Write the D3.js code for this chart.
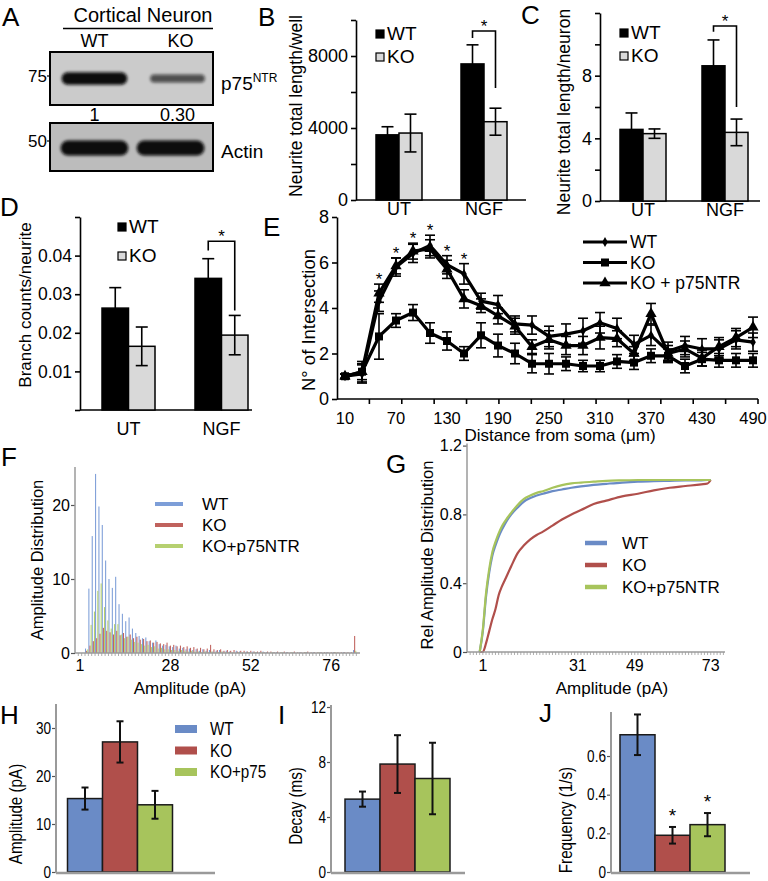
<!DOCTYPE html>
<html><head><meta charset="utf-8">
<script src="https://cdn.jsdelivr.net/npm/d3@7/dist/d3.min.js"></script>
<style>html,body{margin:0;padding:0;background:#fff;}svg{display:block;}</style>
</head><body>
<svg id="fig" width="768" height="881" xmlns="http://www.w3.org/2000/svg"></svg>
<script>
// ================= DATA =================
// A: western blot
const blotLanes = ["WT", "KO"];
const p75Intensity = [1, 0.30];
const actinIntensity = [1, 1];

// B, C, D
const treatments = ["UT", "NGF"];
const genotypes = ["WT", "KO"];
const lengthWellWT = [3620, 7560];
const lengthWellWTErr = [450, 1060];
const lengthWellKO = [3720, 4350];
const lengthWellKOErr = [1050, 750];
const lengthNeuronWT = [4.57, 8.63];
const lengthNeuronWTErr = [1.05, 1.65];
const lengthNeuronKO = [4.3, 4.38];
const lengthNeuronKOErr = [0.3, 0.85];
const branchWT = [0.0264, 0.0341];
const branchWTErr = [0.0053, 0.0051];
const branchKO = [0.0165, 0.0194];
const branchKOErr = [0.0050, 0.0051];
const tickLabelsB = [0, 4000, 8000];
const tickLabelsC = [0, 4, 8];
const tickLabelsD = [0.01, 0.02, 0.03, 0.04];

// E: Sholl analysis
const shollDistances = [10,30,50,70,90,110,130,150,170,190,210,230,250,270,290,310,330,350,370,390,410,430,450,470,490];
const shollWT =        [1.0,1.1,4.3,5.8,6.4,6.75,5.9,5.5,4.3,4.15,3.3,3.25,2.75,2.85,3.0,3.35,3.1,2.4,2.8,2.1,2.35,2.2,2.2,2.6,2.5];
const shollWTErr =     [0.1,0.4,0.45,0.4,0.4,0.45,0.4,0.45,0.35,0.4,0.35,0.4,0.45,0.45,0.55,0.45,0.45,0.4,0.45,0.4,0.4,0.45,0.4,0.4,0.4];
const shollKO =        [1.0,1.2,2.75,3.45,3.8,2.9,2.55,2.0,2.8,2.35,2.0,1.55,1.55,1.55,1.45,1.45,1.65,1.6,1.9,1.9,1.45,1.75,1.7,1.7,1.7];
const shollKOErr =     [0.1,0.45,1.0,0.3,0.35,0.45,0.4,0.3,0.55,0.5,0.45,0.4,0.45,0.3,0.25,0.25,0.3,0.3,0.3,0.3,0.3,0.3,0.3,0.3,0.3];
const shollRescue =    [1.0,1.2,4.65,5.85,6.5,6.6,5.7,4.4,4.1,3.65,3.2,2.3,2.6,2.35,2.35,2.7,2.65,2.0,3.75,2.0,2.2,1.8,2.3,2.7,3.15];
const shollRescueErr = [0.1,0.35,0.4,0.35,0.35,0.4,0.4,0.4,0.3,0.35,0.35,0.3,0.4,0.4,0.4,0.5,0.35,0.3,0.45,0.35,0.35,0.35,0.4,0.4,0.45];
const shollSignificant = [50,70,90,110,130,150];
const shollTickLabels = [10,70,130,190,250,310,370,430,490];

// F: amplitude histogram (bins in pA)
const ampBins = [1,2,3,4,5,6,7,8,9,10,11,12,13,14,15,16,17,18,19,20,21,22,23,24,25,26,27,28,29,30,31,32,33,34,35,36,37,38,39,40,41,42,43,44,45,46,47,48,49,50,51,52,53,54,55,56,57,58,59,60,61,62,63,64,65,66,67,68,69,70,71,72,73,74,75,76,77,78,79,80,81,82,83,84];
const histWT =  [0,0,0.6,8.7,15.8,24.2,19.8,17.3,12.5,10.0,8.8,10.3,6.6,5.3,4.3,4.8,3.3,2.7,2.3,2.0,2.1,1.6,1.4,1.7,1.2,1.0,1.1,0.9,0.8,1.0,0.6,0.7,0.5,0.6,0.4,0.5,0.3,0.5,0.3,0.4,0.2,0.3,0.4,0.2,0.3,0.2,0.1,0.3,0.2,0.1,0.2,0.1,0.2,0.1,0.1,0.2,0.1,0,0.1,0.1,0,0.1,0.1,0,0.1,0,0.1,0,0.1,0,0.1,0,0.1,0,0.1,0,0.1,0,0,0.1,0,0,0.4,0];
const histKO =  [0,0,0.3,1.0,1.6,2.0,2.6,3.4,3.0,2.8,2.5,3.0,2.4,2.7,2.2,2.5,2.0,2.2,1.8,1.9,1.6,1.7,1.4,1.5,1.3,1.2,1.4,1.0,1.1,0.9,1.0,0.8,0.9,0.7,0.8,0.6,0.7,0.5,0.6,1.1,0.5,0.4,0.5,0.3,0.4,0.3,0.4,0.2,0.3,0.3,0.2,0.3,0.2,0.2,0.3,0.1,0.2,0.2,0.1,0.2,0.1,0.2,0.1,0.1,0.2,0.1,0.1,0.1,0.2,0.1,0.1,0.1,0.1,0.1,0.1,0.1,0.1,0.1,0.1,0.1,0.1,0.1,2.3,0];
const histRescue = [0,0,0.5,3.8,5.6,8.4,9.4,6.2,4.4,3.3,3.9,3.9,2.5,2.0,2.2,1.8,1.5,1.4,1.2,1.0,1.1,0.8,0.9,0.6,0.7,0.5,0.5,0.4,0.4,0.3,0.4,0.3,0.2,0.3,0.2,0.2,0.1,0.2,0.1,0.2,0.1,0.1,0.2,0.1,0.1,0.1,0,0.1,0.1,0,0.1,0,0.1,0,0.1,0,0,0.1,0,0,0.1,0,0,0.1,0,0,0,0.1,0,0,0,0.1,0,0,0,0,0.1,0,0,0,0,0,0.3,0];
const histTickLabels = [1,28,52,76];

// G: cumulative amplitude distribution
const cumAmp =    [0,1,2,3,4,5,6,7,8,10,12,14,16,18,20,23,26,29,32,36,40,45,50,55,60,65,70,72,73];
const cumWT =     [0,0.12,0.32,0.46,0.56,0.62,0.67,0.71,0.745,0.80,0.84,0.875,0.895,0.91,0.92,0.935,0.945,0.955,0.963,0.972,0.978,0.985,0.99,0.993,0.995,0.997,0.998,1.0,1.0];
const cumKO =     [0,0,0.05,0.12,0.19,0.25,0.33,0.38,0.42,0.50,0.575,0.62,0.655,0.68,0.70,0.735,0.77,0.80,0.825,0.86,0.88,0.905,0.92,0.94,0.955,0.965,0.975,0.98,1.0];
const cumRescue = [0,0.13,0.34,0.48,0.58,0.64,0.69,0.73,0.76,0.81,0.855,0.89,0.91,0.925,0.935,0.955,0.97,0.98,0.985,0.99,0.995,0.998,1.0,1.0,1.0,1.0,1.0,1.0,1.0];
const cumTickLabels = [1,31,49,73];

// H, I, J
const groupsHIJ = ["WT", "KO", "KO+p75"];
const amplitudeMean = [15.3, 27.1, 14.0];
const amplitudeErr = [2.3, 4.3, 2.9];
const decayMean = [5.3, 7.85, 6.8];
const decayErr = [0.55, 2.1, 2.6];
const frequencyMean = [0.71, 0.19, 0.245];
const frequencyErr = [0.105, 0.043, 0.06];
const frequencySignificant = ["KO", "KO+p75"];

// ================= DRAWING =================
const svg = d3.select("#fig");
const SANS = '"Liberation Sans", Arial, Helvetica, sans-serif';
const COL = {WT: "#6a8bc6", KO: "#b04f4b", "KO+p75": "#a7c45c"};
const COLF = {WT: "#7d9ed8", KO: "#c0625d", p75: "#b6d070"};
const AXGREY = "#9a9a9a";
const SQUEEZE = 0.8;

function txt(g, x, y, s, size, o = {}) {
  return g.append("text").attr("x", x).attr("y", y).text(s)
    .style("font-family", SANS).style("font-size", size + "px")
    .attr("text-anchor", o.anchor || "start").attr("fill", o.fill || "#000");
}
function ntxt(g, x, y, s, size, o = {}) {
  return g.append("text").attr("transform", `translate(${x},${y}) scale(${SQUEEZE},1)`).text(s)
    .style("font-family", SANS).style("font-size", size + "px")
    .attr("text-anchor", o.anchor || "start").attr("fill", "#000");
}
function vtxt(g, cx, cy, s, size, squeeze) {
  return g.append("text").attr("transform", `translate(${cx},${cy}) rotate(-90)` + (squeeze ? ` scale(${squeeze},1)` : ""))
    .attr("text-anchor", "middle").attr("dy", "0.35em").text(s)
    .style("font-family", SANS).style("font-size", size + "px").attr("fill", "#000");
}

// panel letters
const letters = [["A",2,26],["B",258,26],["C",521,24],["D",0,216],["E",263,236],["F",1,466],["G",386,473],["H",0,724],["I",278,724],["J",539,722]];
letters.forEach(([l,x,y]) => txt(svg, x, y, l, 26));

// ---------- A: western blot ----------
(function(){
  const g = svg.append("g");
  const defs = svg.append("defs");
  defs.append("filter").attr("id","blur").attr("x","-20%").attr("y","-60%").attr("width","140%").attr("height","220%")
    .append("feGaussianBlur").attr("stdDeviation", 1.6);
  const lane = d3.scaleBand().domain(blotLanes).range([58, 212]).paddingInner(0.05).paddingOuter(0.05);
  txt(g, 143, 22, "Cortical Neuron", 20, {anchor:"middle"});
  g.append("line").attr("x1",63).attr("x2",213).attr("y1",28.5).attr("y2",28.5).attr("stroke","#000").attr("stroke-width",1.5);
  blotLanes.forEach(l => txt(g, lane(l) + lane.bandwidth()/2 - (l==="WT"?3:-8), 47, l, 18, {anchor:"middle"}));
  const blots = [{y:52,h:53,bg:"#cbcbcb",vals:p75Intensity,marker:"75",label:"p75",sup:"NTR"},
                 {y:123,h:48,bg:"#bcbcbc",vals:actinIntensity,marker:"50",label:"Actin",sup:""}];
  blots.forEach((b,bi) => {
    g.append("rect").attr("x",50).attr("y",b.y).attr("width",163).attr("height",b.h).attr("fill",b.bg).attr("stroke","#000").attr("stroke-width",2);
    const cy = b.y + b.h*0.5 + (bi===0?0:1);
    blotLanes.forEach((l,i) => {
      const v = b.vals[i];
      const bw = lane.bandwidth() * (bi===0 ? (0.7 + 0.22*v) : 0.95);
      const bh = bi===0 ? (6 + 6.5*v) : 15;
      const cx = lane(l) + lane.bandwidth()/2 + (bi===0 && i===1 ? 5 : (i===0?-3:-2));
      g.append("rect").attr("x", cx-bw/2).attr("y", cy-bh/2).attr("width", bw).attr("height", bh)
        .attr("rx", bh/2).attr("fill", "#0a0a0a").attr("opacity", 0.5 + 0.5*v)
        .attr("filter","url(#blur)");
    });
    txt(g, 47, b.y + (bi===0?30:24), b.marker, 17, {anchor:"end"});
    g.append("line").attr("x1",47).attr("x2",51).attr("y1",b.y+(bi===0?24:18)).attr("y2",b.y+(bi===0?24:18)).attr("stroke","#000").attr("stroke-width",1.2);
    const t = txt(g, 221, bi===0 ? 90 : 158, b.label, 19);
    if (b.sup) t.append("tspan").attr("dy",-8).style("font-size","12px").text(b.sup);
  });
  const quant = ["1", p75Intensity[1].toFixed(2)];
  blotLanes.forEach((l,i) => txt(g, lane(l)+lane.bandwidth()/2 + (i===0?-3:5), 121, quant[i], 18, {anchor:"middle"}));
})();

// ---------- B, C, D ----------
function bwPanel(o) {
  const g = svg.append("g");
  const y = d3.scaleLinear().domain(o.yDomain).range(o.yRange);
  const x0 = d3.scaleBand().domain(treatments).range(o.barRange).paddingInner(o.inner).paddingOuter(0);
  const x1 = d3.scaleBand().domain(genotypes).range([0, x0.bandwidth()]);
  const ax = d3.axisLeft(y).tickValues(o.ticks).tickSize(5).tickSizeOuter(0).tickPadding(3)
    .tickFormat(d => o.labeled.some(v => Math.abs(v-d) < 1e-9) ? o.fmt(d) : "");
  const ag = g.append("g").attr("transform", `translate(${o.axisX},0)`).call(ax);
  ag.select(".domain").attr("stroke","#000").attr("stroke-width",1.6);
  ag.selectAll(".tick line").attr("stroke","#000").attr("stroke-width",1.6);
  ag.selectAll(".tick text").style("font-family",SANS).style("font-size",o.tickFont+"px").attr("fill","#000");
  g.append("line").attr("x1",o.axisX).attr("x2",o.axisEnd).attr("y1",y(0)).attr("y2",y(0)).attr("stroke","#000").attr("stroke-width",1.6);
  const series = [{key:"WT", vals:o.wt, errs:o.wtErr, fill:"#000"},{key:"KO", vals:o.ko, errs:o.koErr, fill:"#d9d9d9"}];
  series.forEach(s => {
    g.selectAll(null).data(treatments).join("rect")
      .attr("x", t => x0(t)+x1(s.key)).attr("width", x1.bandwidth())
      .attr("y", (t,i) => y(s.vals[i])).attr("height", (t,i) => y(0)-y(s.vals[i]))
      .attr("fill", s.fill).attr("stroke","#000").attr("stroke-width",1.5);
  });
  series.forEach(s => {
    treatments.forEach((t,i) => {
      const cx = x0(t)+x1(s.key)+x1.bandwidth()/2;
      const hi = y(s.vals[i]+s.errs[i]), lo = y(s.vals[i]-s.errs[i]);
      g.append("line").attr("x1",cx).attr("x2",cx).attr("y1",hi).attr("y2",lo).attr("stroke","#000").attr("stroke-width",1.6);
      [hi,lo].forEach(yy => g.append("line").attr("x1",cx-6).attr("x2",cx+6).attr("y1",yy).attr("y2",yy).attr("stroke","#000").attr("stroke-width",1.6));
    });
  });
  treatments.forEach(t => txt(g, x0(t)+x0.bandwidth()/2, o.catY, t, 18, {anchor:"middle"}));
  genotypes.forEach((k,i) => {
    const ly = o.legY + i*o.legStep;
    g.append("rect").attr("x",o.legX).attr("y",ly).attr("width",8).attr("height",8)
      .attr("fill", k==="WT"?"#000":"#d9d9d9").attr("stroke","#000").attr("stroke-width",1.2);
    txt(g, o.legX+11, ly+10, k, 19);
  });
  const xa = x0("NGF")+x1("WT")+x1.bandwidth()/2, xb = x0("NGF")+x1("KO")+x1.bandwidth()/2;
  const [top, leftEnd, rightEnd] = o.bracket;
  g.append("path").attr("d", `M${xa},${y(leftEnd)}V${y(top)}H${xb}V${y(rightEnd)}`)
    .attr("fill","none").attr("stroke","#000").attr("stroke-width",1.6);
  txt(g, (xa+xb)/2, y(top)+1, "*", 17, {anchor:"middle"});
  vtxt(g, o.ylabX, o.ylabY, o.ylab, o.ylabSize || 17.5);
}

bwPanel({wt:lengthWellWT, wtErr:lengthWellWTErr, ko:lengthWellKO, koErr:lengthWellKOErr,
  yDomain:[0,10000], yRange:[200,20], ticks:[0,2000,4000,6000,8000,10000], labeled:tickLabelsB, fmt:d3.format("d"),
  axisX:356, axisEnd:526, barRange:[376,507], inner:0.459, tickFont:18, catY:215,
  legX:376, legY:30, legStep:23, bracket:[9390,9000,6220], ylab:"Neurite total length/well", ylabX:296, ylabY:106});
bwPanel({wt:lengthNeuronWT, wtErr:lengthNeuronWTErr, ko:lengthNeuronKO, koErr:lengthNeuronKOErr,
  yDomain:[0,12], yRange:[201,13], ticks:[0,2,4,6,8,10,12], labeled:tickLabelsC, fmt:d3.format("d"),
  axisX:600, axisEnd:760, barRange:[620,748], inner:0.439, tickFont:18, catY:216,
  legX:620, legY:29, legStep:23, bracket:[11.17,10.8,6.0], ylab:"Neurite total length/neuron", ylabX:564, ylabY:112});
bwPanel({wt:branchWT, wtErr:branchWTErr, ko:branchKO, koErr:branchKOErr,
  yDomain:[0,0.05], yRange:[410,217], ticks:[0,0.01,0.02,0.03,0.04,0.05], labeled:tickLabelsD, fmt:d3.format(".2f"),
  axisX:80, axisEnd:252, barRange:[102,248], inner:0.43, tickFont:17.5, catY:435,
  legX:118, legY:223, legStep:29, bracket:[0.0437,0.0413,0.0258], ylab:"Branch counts/neurite", ylabX:25, ylabY:305, ylabSize:17});

// ---------- E: Sholl ----------
(function(){
  const g = svg.append("g");
  const y = d3.scaleLinear().domain([0,8]).range([399,217]);
  const x = d3.scalePoint().domain(shollDistances).range([345,753]);
  const tickPos = d3.scaleLinear().domain([0,13]).range([337,758]);
  const ax = d3.axisLeft(y).tickValues([0,2,4,6,8]).tickSize(5).tickSizeOuter(0).tickPadding(3);
  const ag = g.append("g").attr("transform","translate(337,0)").call(ax);
  ag.select(".domain").attr("stroke","#000").attr("stroke-width",1.6);
  ag.selectAll(".tick line").attr("stroke","#000").attr("stroke-width",1.6);
  ag.selectAll(".tick text").style("font-family",SANS).style("font-size","18px").attr("fill","#000");
  g.append("line").attr("x1",337).attr("x2",758).attr("y1",y(0)).attr("y2",y(0)).attr("stroke","#000").attr("stroke-width",1.6);
  g.selectAll(null).data(d3.range(1,14)).join("line")
    .attr("x1",d=>tickPos(d)).attr("x2",d=>tickPos(d)).attr("y1",y(0)).attr("y2",y(0)+5).attr("stroke","#000").attr("stroke-width",1.6);
  shollTickLabels.forEach(d => txt(g, x(d), 424, String(d), 16.5, {anchor:"middle"}));
  txt(g, 560, 441, "Distance from soma (\u03bcm)", 17, {anchor:"middle"});
  vtxt(g, 309, 320, "N\u00b0 of Intersection", 18.5);

  const series = [
    {name:"WT", vals:shollWT, errs:shollWTErr, sym:d3.symbolDiamond, size:28},
    {name:"KO", vals:shollKO, errs:shollKOErr, sym:d3.symbolSquare, size:64},
    {name:"KO + p75NTR", vals:shollRescue, errs:shollRescueErr, sym:d3.symbolTriangle, size:55}];
  series.forEach(s => {
    shollDistances.forEach((d,i) => {
      const cx = x(d), hi = y(s.vals[i]+s.errs[i]), lo = y(s.vals[i]-s.errs[i]);
      g.append("line").attr("x1",cx).attr("x2",cx).attr("y1",hi).attr("y2",lo).attr("stroke","#000").attr("stroke-width",1.6);
      [hi,lo].forEach(yy => g.append("line").attr("x1",cx-5).attr("x2",cx+5).attr("y1",yy).attr("y2",yy).attr("stroke","#000").attr("stroke-width",1.6));
    });
  });
  const line = d3.line().x((v,i)=>x(shollDistances[i])).y(v=>y(v));
  series.forEach(s => {
    g.append("path").attr("d", line(s.vals)).attr("fill","none").attr("stroke","#000").attr("stroke-width",3.2).attr("stroke-linejoin","round");
    g.selectAll(null).data(s.vals).join("path")
      .attr("transform",(v,i)=>`translate(${x(shollDistances[i])},${y(v)})`)
      .attr("d", d3.symbol().type(s.sym).size(s.size)).attr("fill","#000");
  });
  shollSignificant.forEach(d => {
    const i = shollDistances.indexOf(d);
    const top = Math.max(shollWT[i]+shollWTErr[i], shollRescue[i]+shollRescueErr[i]);
    txt(g, x(d), y(top)+1, "*", 17, {anchor:"middle"});
  });
  series.forEach((s,i) => {
    const ly = 242 + i*20.5;
    g.append("line").attr("x1",583).attr("x2",627).attr("y1",ly).attr("y2",ly).attr("stroke","#000").attr("stroke-width",3.2);
    g.append("path").attr("transform",`translate(605,${ly})`).attr("d", d3.symbol().type(s.sym).size(s.size)).attr("fill","#000");
    txt(g, 630, ly+6, s.name, 17.5);
  });
})();

// ---------- F: histogram ----------
(function(){
  const g = svg.append("g");
  const y = d3.scaleLinear().domain([0,25]).range([653,468]);
  const x = d3.scaleBand().domain(ampBins).range([78.3,359.7]);
  const keys = ["WT","KO","p75"];
  const xs = d3.scaleBand().domain(keys).range([0, x.bandwidth()]);
  const data = {WT:histWT, KO:histKO, p75:histRescue};
  keys.forEach(k => {
    g.selectAll(null).data(ampBins).join("rect")
      .attr("x", (b)=> x(b)+xs(k)).attr("width", xs.bandwidth()*0.95)
      .attr("y", (b,i)=> y(data[k][i])).attr("height", (b,i)=> y(0)-y(data[k][i]))
      .attr("fill", COLF[k]);
  });
  const ax = d3.axisLeft(y).tickValues([0,10,20]).tickSize(4).tickSizeOuter(0).tickPadding(1);
  const ag = g.append("g").attr("transform","translate(75,0)").call(ax);
  ag.select(".domain").remove();
  g.append("line").attr("x1",75).attr("x2",75).attr("y1",467).attr("y2",653).attr("stroke",AXGREY).attr("stroke-width",1.5);
  ag.selectAll(".tick line").attr("stroke","#555").attr("stroke-width",1.2);
  ag.selectAll(".tick text").style("font-family",SANS).style("font-size","16px").attr("fill","#000");
  g.append("line").attr("x1",75).attr("x2",360).attr("y1",653).attr("y2",653).attr("stroke",AXGREY).attr("stroke-width",1.5);
  g.selectAll(null).data(ampBins).join("line")
    .attr("x1",b=>x(b)).attr("x2",b=>x(b)).attr("y1",653).attr("y2",656).attr("stroke",AXGREY).attr("stroke-width",0.8);
  histTickLabels.forEach(b => txt(g, x(b)+x.bandwidth()/2, 671, String(b), 16, {anchor:"middle"}));
  txt(g, 190, 694, "Amplitude (pA)", 17, {anchor:"middle"});
  vtxt(g, 37, 560, "Amplitude Distribution", 16.5);
  const names = ["WT","KO","KO+p75NTR"];
  keys.forEach((k,i) => {
    const ly = 504 + i*21;
    g.append("line").attr("x1",155).attr("x2",183).attr("y1",ly).attr("y2",ly).attr("stroke",COLF[k]).attr("stroke-width",4);
    txt(g, 202, ly+6, names[i], 17);
  });
})();

// ---------- G: cumulative ----------
(function(){
  const g = svg.append("g");
  const y = d3.scaleLinear().domain([0,1]).range([652,480]);
  const x = d3.scaleLinear().domain([-4,77.5]).range([467,725]);
  const curves = [{k:"WT", v:cumWT, c:COL.WT},{k:"KO", v:cumKO, c:COL.KO},{k:"KO+p75NTR", v:cumRescue, c:COL["KO+p75"]}];
  const line = d3.line().x((v,i)=>x(cumAmp[i])).y(v=>y(v)).curve(d3.curveMonotoneX);
  curves.forEach(c => g.append("path").attr("d", line(c.v)).attr("fill","none").attr("stroke",c.c).attr("stroke-width",2.2));
  const ax = d3.axisLeft(y).tickValues([0,0.4,0.8,1.2]).tickFormat(d=> d===0?"0":d3.format(".1f")(d)).tickSize(4).tickSizeOuter(0).tickPadding(1);
  const ag = g.append("g").attr("transform","translate(467,0)").call(ax);
  ag.select(".domain").remove();
  g.append("line").attr("x1",467).attr("x2",467).attr("y1",y(1.2)-2).attr("y2",652).attr("stroke",AXGREY).attr("stroke-width",1.5);
  ag.selectAll(".tick line").attr("stroke","#555").attr("stroke-width",1.2);
  ag.selectAll(".tick text").style("font-family",SANS).style("font-size","16px").attr("fill","#000");
  g.append("line").attr("x1",467).attr("x2",725).attr("y1",652).attr("y2",652).attr("stroke",AXGREY).attr("stroke-width",1.5);
  g.selectAll(null).data(d3.range(-3,78)).join("line")
    .attr("x1",d=>x(d)).attr("x2",d=>x(d)).attr("y1",652).attr("y2",655).attr("stroke",AXGREY).attr("stroke-width",0.8);
  cumTickLabels.forEach(d => txt(g, x(d), 671, String(d), 16, {anchor:"middle"}));
  txt(g, 612, 694, "Amplitude (pA)", 17, {anchor:"middle"});
  vtxt(g, 427, 555, "Rel Amplitude Distribution", 16.5);
  curves.forEach((c,i) => {
    const ly = 543 + i*22;
    g.append("line").attr("x1",585).attr("x2",607).attr("y1",ly).attr("y2",ly).attr("stroke",c.c).attr("stroke-width",4.5);
    txt(g, 622, ly+6, c.k, 17);
  });
})();

// ---------- H, I, J ----------
const BASE = 872;
function colorBarPanel(o) {
  const g = svg.append("g");
  const y = d3.scaleLinear().domain([0, o.yMax]).range([BASE, BASE - o.pxPerUnit*o.yMax]);
  const x = d3.scaleBand().domain(groupsHIJ).range(o.barRange);
  g.selectAll(null).data(groupsHIJ).join("rect")
    .attr("x", d=>x(d)).attr("width", x.bandwidth()).attr("y",(d,i)=>y(o.mean[i])).attr("height",(d,i)=>BASE-y(o.mean[i]))
    .attr("fill", d=>COL[d]).attr("stroke","#1a1a1a").attr("stroke-width",1.5);
  groupsHIJ.forEach((d,i) => {
    const cx = x(d)+x.bandwidth()/2, hi=y(o.mean[i]+o.err[i]), lo=y(o.mean[i]-o.err[i]);
    g.append("line").attr("x1",cx).attr("x2",cx).attr("y1",hi).attr("y2",lo).attr("stroke","#111").attr("stroke-width",2);
    [hi,lo].forEach(yy => g.append("line").attr("x1",cx-3.5).attr("x2",cx+3.5).attr("y1",yy).attr("y2",yy).attr("stroke","#111").attr("stroke-width",2));
  });
  const ax = d3.axisLeft(y).tickValues(o.ticks).tickFormat(o.fmt).tickSize(4).tickSizeOuter(0).tickPadding(1);
  const ag = g.append("g").attr("transform",`translate(${o.axisX},0)`).call(ax);
  ag.select(".domain").remove();
  ag.selectAll(".tick line").attr("stroke","#555").attr("stroke-width",1.2);
  ag.selectAll(".tick text").style("font-family",SANS).style("font-size","17px").attr("fill","#000")
    .attr("dy","0.3em").attr("transform",`scale(${SQUEEZE},1)`).attr("x", -5/SQUEEZE);
  g.append("line").attr("x1",o.axisX).attr("x2",o.axisX).attr("y1",o.axisTop).attr("y2",BASE+1).attr("stroke",AXGREY).attr("stroke-width",2);
  g.append("line").attr("x1",o.axisX).attr("x2",o.axisEnd).attr("y1",BASE+1).attr("y2",BASE+1).attr("stroke",AXGREY).attr("stroke-width",2.5);
  vtxt(g, o.ylabX, o.ylabY, o.ylab, 19, SQUEEZE);
  (o.sig||[]).forEach(d => {
    const i = groupsHIJ.indexOf(d);
    txt(g, x(d)+x.bandwidth()/2, y(o.mean[i]+o.err[i]) - 5, "*", 19, {anchor:"middle"});
  });
  return {g, x};
}
const H = colorBarPanel({mean:amplitudeMean, err:amplitudeErr, yMax:35, pxPerUnit:4.8, barRange:[67.5,172.5], axisX:56, axisTop:704, axisEnd:215,
  ticks:[0,10,20,30], fmt:d3.format("d"), ylab:"Amplitude (pA)", ylabX:15, ylabY:814});
groupsHIJ.forEach((d,i) => {
  const ly = 725 + i*21.5;
  H.g.append("rect").attr("x",175).attr("y",ly).attr("width",22).attr("height",8).attr("fill",COL[d]);
  ntxt(H.g, 210, ly+10, d, 19);
});
colorBarPanel({mean:decayMean, err:decayErr, yMax:12, pxPerUnit:13.75, barRange:[345,450], axisX:331, axisTop:705, axisEnd:465,
  ticks:[0,4,8,12], fmt:d3.format("d"), ylab:"Decay (ms)", ylabX:295, ylabY:806});
colorBarPanel({mean:frequencyMean, err:frequencyErr, yMax:0.8, pxPerUnit:193.3, barRange:[620,725], axisX:611, axisTop:712, axisEnd:750,
  ticks:[0,0.2,0.4,0.6], fmt:d=> d===0?"0":d3.format(".1f")(d), ylab:"Frequency (1/s)", ylabX:565, ylabY:820, sig:frequencySignificant});
</script>
</body></html>
